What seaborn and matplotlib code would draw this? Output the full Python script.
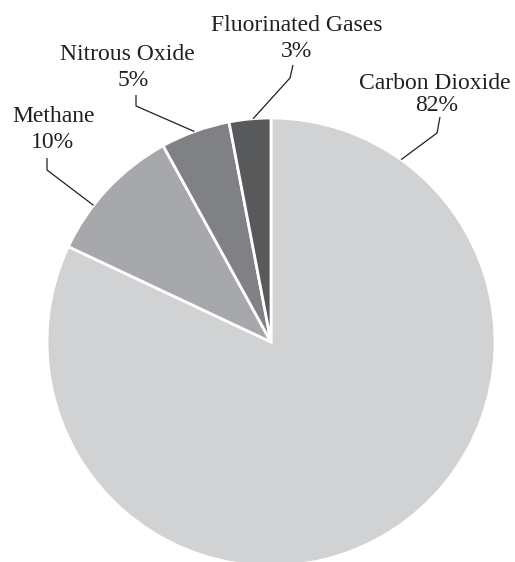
import matplotlib
matplotlib.use("Agg")
import matplotlib.pyplot as plt
import seaborn as sns
import numpy as np

# Data
categories = ["Carbon Dioxide", "Methane", "Nitrous Oxide", "Fluorinated Gases"]
values = [82, 10, 5, 3]
colors = ["#d1d2d4", "#a7a8ab", "#808184", "#58595b"]

sns.set_theme(style="white")
plt.rcParams["font.family"] = ["Liberation Serif", "DejaVu Serif"]

W, H, DPI = 515, 562, 100
fig = plt.figure(figsize=(W / DPI, H / DPI), dpi=DPI)
ax = fig.add_axes([0, 0, 1, 1])

# pie geometry in pixels
CX, CY, R = 271, 342, 224


def px(x, y):
    return (x - CX) / R, (CY - y) / R


ax.pie(values, colors=colors, startangle=90, counterclock=False,
       radius=1, center=(0, 0),
       wedgeprops=dict(edgecolor="white", linewidth=2.0))

ax.set_xlim(-CX / R, (W - CX) / R)
ax.set_ylim(-(H - CY) / R, CY / R)
ax.set_aspect("equal")
ax.axis("off")

# layout: name baseline, pct baseline (pixels), leader angle, elbow, end
layout = {
    "Carbon Dioxide": dict(name=(435, 89), pct=(437, 111), ang=54.5,
                           elbow=(437, 133), end=(440, 117)),
    "Fluorinated Gases": dict(name=(297, 31), pct=(296, 57), ang=94.6,
                              elbow=(290, 78), end=(293, 65)),
    "Nitrous Oxide": dict(name=(127, 60), pct=(133, 86), ang=110.0,
                          elbow=(136, 106), end=(136, 95)),
    "Methane": dict(name=(54, 122), pct=(52, 148), ang=142.4,
                    elbow=(47, 170), end=(47, 158)),
}

tc = "#231f20"
fs = 17
for cat, val in zip(categories, values):
    L = layout[cat]
    x, y = px(*L["name"])
    ax.text(x, y, cat, ha="center", va="baseline", fontsize=fs, color=tc)
    x, y = px(*L["pct"])
    ax.text(x, y, f"{val}%", ha="center", va="baseline", fontsize=fs, color=tc)
    a = np.deg2rad(L["ang"])
    sx, sy = np.cos(a), np.sin(a)
    ex, ey = px(*L["elbow"])
    tx, ty = px(*L["end"])
    ax.plot([sx, ex, tx], [sy, ey, ty], color=tc, lw=0.9, solid_capstyle="butt")

fig.savefig("out.png", dpi=DPI, facecolor="white")
